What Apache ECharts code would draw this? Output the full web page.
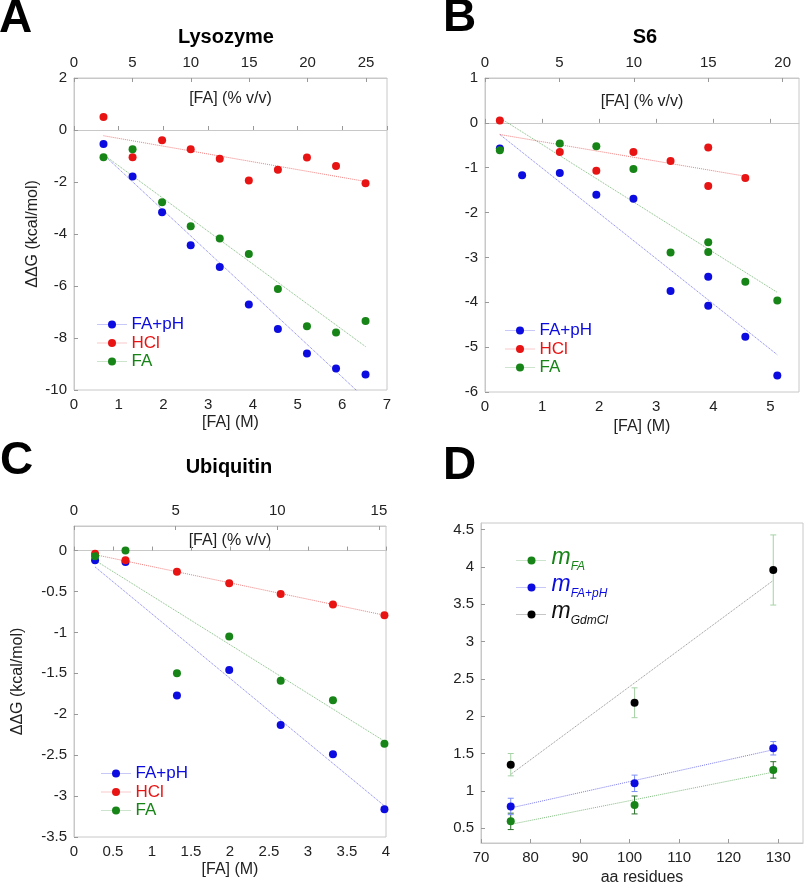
<!DOCTYPE html>
<html>
<head>
<meta charset="utf-8">
<script src="https://cdn.jsdelivr.net/npm/echarts@6/dist/echarts.min.js"></script>
</head>
<body style="margin:0">
<div id="chart" style="width:805px;height:887px;"></div>
<script>
// ---- Lysozyme (A)
const lysM = [0.66, 1.31, 1.97, 2.61, 3.26, 3.91, 4.56, 5.21, 5.86, 6.52];
const lysFApH = [-0.54, -1.79, -3.16, -4.43, -5.27, -6.71, -7.65, -8.60, -9.17, -9.40];
const lysHCl = [0.50, -1.05, -0.39, -0.74, -1.11, -1.94, -1.53, -1.06, -1.38, -2.05];
const lysFA = [-1.05, -0.74, -2.78, -3.70, -4.17, -4.77, -6.12, -7.55, -7.79, -7.35];
const lysFitM = [0.66, 6.52];
const lysFitFApH = [-0.95, -10.34];
const lysFitHCl = [-0.22, -1.98];
const lysFitFA = [-0.95, -8.33];

// ---- S6 (B)
const s6MFApH = [0.26, 0.65, 1.31, 1.95, 2.60, 3.25, 3.91, 3.91, 4.56, 5.12];
const s6FApH = [-0.57, -1.17, -1.12, -1.60, -1.69, -3.75, -3.43, -4.08, -4.77, -5.63];
const s6MHCl = [0.26, 1.31, 1.95, 2.60, 3.25, 3.91, 3.91, 4.56];
const s6HCl = [0.05, -0.65, -1.07, -0.65, -0.85, -0.55, -1.41, -1.23];
const s6MFA = [0.26, 1.31, 1.95, 2.60, 3.25, 3.91, 3.91, 4.56, 5.12];
const s6FA = [-0.61, -0.46, -0.52, -1.03, -2.89, -2.66, -2.88, -3.54, -3.96];
const s6FitMHCl = [0.26, 4.56];
const s6FitHCl = [-0.26, -1.19];
const s6FitM = [0.26, 5.12];
const s6FitFApH = [-0.26, -5.17];
const s6FitFA = [0.11, -3.78];

// ---- Ubiquitin (C)
const ubM = [0.27, 0.66, 1.32, 1.99, 2.65, 3.32, 3.98];
const ubFApH = [-0.12, -0.14, -1.77, -1.46, -2.13, -2.49, -3.16];
const ubHCl = [-0.04, -0.12, -0.26, -0.40, -0.53, -0.66, -0.79];
const ubFA = [-0.07, 0.00, -1.50, -1.05, -1.59, -1.83, -2.36];
const ubFitM = [0.27, 3.98];
const ubFitFApH = [-0.20, -3.12];
const ubFitHCl = [-0.05, -0.79];
const ubFitFA = [-0.12, -2.33];

// ---- m-values vs size (D)
const residues = [76, 101, 129];
const mFA = [0.59, 0.81, 1.28];
const mFAErr = [0.11, 0.12, 0.11];
const mFApH = [0.79, 1.10, 1.57];
const mFApHErr = [0.11, 0.11, 0.09];
const mGdm = [1.35, 2.18, 3.96];
const mGdmErr = [0.15, 0.20, 0.47];
const dFitRes = [76, 129];
const dFitFA = [0.55, 1.25];
const dFitFApH = [0.77, 1.55];
const dFitGdm = [1.22, 3.82];

// tick labels
const pctTicksA = [0, 5, 10, 15, 20, 25];
const pctTicksB = [0, 5, 10, 15, 20];
const pctTicksC = [0, 5, 10, 15];
const mTicksB = [0, 1, 2, 3, 4, 5];
const yTicksC = [-3.5, -3, -2.5, -2, -1.5, -1, -0.5, 0];
const resTicks = [70, 80, 90, 100, 110, 120, 130];
const yTicksD = [0.5, 1, 1.5, 2, 2.5, 3, 3.5, 4, 4.5];

const BLUE = '#0c0ce0', RED = '#e81414', GREEN = '#168416', BLACK = '#000000';
const FONT = 'Liberation Sans, Arial, sans-serif';
const LBL = {color: '#222', fontSize: 15, fontFamily: FONT, margin: 7};
const zip = (xs, ys) => xs.map((x, i) => [x, ys[i]]);

let chart = echarts.init(document.getElementById('chart'));

function xAx(gi, opt) {
    return Object.assign({
        type: 'value', gridIndex: gi, position: 'bottom',
        axisLine: {lineStyle: {color: '#c8c8c8'}},
        axisTick: {inside: true, length: 4, lineStyle: {color: '#999'}},
        axisLabel: LBL,
        splitLine: {show: false},
        nameTextStyle: {color: '#222', fontSize: 16, fontFamily: FONT},
        nameLocation: 'middle'
    }, opt);
}
function yAx(gi, opt) {
    return Object.assign({
        type: 'value', gridIndex: gi,
        axisLine: {show: true, lineStyle: {color: '#c8c8c8'}},
        axisTick: {show: true, inside: true, length: 4, lineStyle: {color: '#999'}},
        axisLabel: LBL,
        splitLine: {show: false},
        nameTextStyle: {color: '#222', fontSize: 16, fontFamily: FONT},
        nameLocation: 'middle', nameRotate: 90
    }, opt);
}
function custom(vals, margin) {
    return {
        axisLabel: Object.assign({}, LBL, {customValues: vals, margin: margin || 7}),
        axisTick: {inside: true, length: 4, lineStyle: {color: '#999'}, customValues: vals}
    };
}
function pts(name, color, xi, yi, data) {
    return {
        type: 'line', name: name, xAxisIndex: xi, yAxisIndex: yi, data: data,
        symbol: 'circle', symbolSize: 8, showSymbol: true, color: color,
        itemStyle: {color: color}, lineStyle: {opacity: 0}, z: 5
    };
}
function fit(color, xi, yi, data) {
    return {
        type: 'line', xAxisIndex: xi, yAxisIndex: yi, data: data, silent: true,
        showSymbol: false, symbol: 'none', color: color,
        lineStyle: {color: color, width: 1, type: 'dotted', opacity: 0.55}, z: 2
    };
}
function errs(color, xi, yi, xs, ys, es) {
    return {
        type: 'custom', xAxisIndex: xi, yAxisIndex: yi, silent: true, z: 3,
        data: xs.map((x, i) => [x, ys[i] - es[i], ys[i] + es[i]]),
        renderItem: (params, api) => {
            let lo = api.coord([api.value(0), api.value(1)]);
            let hi = api.coord([api.value(0), api.value(2)]);
            let w = 3;
            return {
                type: 'group',
                children: [
                    {type: 'line', shape: {x1: lo[0], y1: lo[1], x2: hi[0], y2: hi[1]}, style: {stroke: color, lineWidth: 1}},
                    {type: 'line', shape: {x1: lo[0] - w, y1: lo[1], x2: lo[0] + w, y2: lo[1]}, style: {stroke: color, lineWidth: 1}},
                    {type: 'line', shape: {x1: hi[0] - w, y1: hi[1], x2: hi[0] + w, y2: hi[1]}, style: {stroke: color, lineWidth: 1}}
                ]
            };
        }
    };
}
function legendABC(left, top) {
    return {
        orient: 'vertical', left: left, top: top, itemWidth: 29, itemHeight: 10, itemGap: 1.5,
        selectedMode: false,
        lineStyle: {width: 1, type: 'dotted', opacity: 0.45},
        textStyle: {fontSize: 17, fontFamily: FONT, lineHeight: 16},
        data: [
            {name: 'FA+pH', textStyle: {color: BLUE}},
            {name: 'HCl', textStyle: {color: RED}},
            {name: 'FA', textStyle: {color: GREEN}}
        ]
    };
}

const gridStyle = {show: true, borderColor: '#c8c8c8', borderWidth: 1, backgroundColor: 'transparent'};

let option = {
    animation: false,
    backgroundColor: '#fff',
    grid: [
        Object.assign({left: 74, top: 78, width: 313, height: 312}, gridStyle),
        Object.assign({left: 485, top: 78, width: 314, height: 314}, gridStyle),
        Object.assign({left: 74, top: 526, width: 312, height: 311}, gridStyle),
        Object.assign({left: 481, top: 523, width: 322, height: 323}, gridStyle)
    ],
    xAxis: [
        xAx(0, {min: 0, max: 7, interval: 1, name: '[FA] (M)', nameGap: 25}),
        xAx(0, Object.assign({min: 0, max: 26.8, position: 'top', name: '[FA] (% v/v)', nameGap: -29}, custom(pctTicksA, 8))),
        xAx(1, Object.assign({min: 0, max: 5.5, name: '[FA] (M)', nameGap: 27}, custom(mTicksB))),
        xAx(1, Object.assign({min: 0, max: 21.1, position: 'top', name: '[FA] (% v/v)', nameGap: -32}, custom(pctTicksB, 8))),
        xAx(2, {min: 0, max: 4, interval: 0.5, name: '[FA] (M)', nameGap: 25}),
        xAx(2, Object.assign({min: 0, max: 15.35, position: 'top', name: '[FA] (% v/v)', nameGap: -23}, custom(pctTicksC, 8))),
        xAx(3, Object.assign({min: 70, max: 135, name: 'aa residues', nameGap: 27}, custom(resTicks)))
    ],
    yAxis: [
        yAx(0, {min: -10, max: 2, interval: 2, name: 'ΔΔG (kcal/mol)', nameGap: 33}),
        yAx(1, {min: -6, max: 1, interval: 1}),
        yAx(2, Object.assign({min: -3.5, max: 0.3, name: 'ΔΔG (kcal/mol)', nameGap: 48}, custom(yTicksC))),
        yAx(3, Object.assign({min: 0.3, max: 4.59}, custom(yTicksD)))
    ],
    legend: [
        legendABC(92, 311),
        legendABC(500, 317),
        legendABC(96, 760),
        {
            orient: 'vertical', left: 511, top: 541, itemWidth: 30, itemHeight: 10, itemGap: 0,
            selectedMode: false,
            lineStyle: {width: 1, type: 'dotted', opacity: 0.45},
            formatter: n => {
                let k = n === 'm_FA' ? 'g' : (n === 'm_FA+pH' ? 'b' : 'k');
                return '{m' + k + '|m}{s' + k + '|' + n.slice(2) + '}';
            },
            textStyle: {
                fontFamily: FONT,
                rich: {
                    mg: {fontSize: 23, fontStyle: 'italic', color: GREEN, padding: [0, 0, 6, 0]},
                    sg: {fontSize: 12, fontStyle: 'italic', color: GREEN, padding: [13, 0, 0, 0]},
                    mb: {fontSize: 23, fontStyle: 'italic', color: BLUE, padding: [0, 0, 6, 0]},
                    sb: {fontSize: 12, fontStyle: 'italic', color: BLUE, padding: [13, 0, 0, 0]},
                    mk: {fontSize: 23, fontStyle: 'italic', color: '#111', padding: [0, 0, 6, 0]},
                    sk: {fontSize: 12, fontStyle: 'italic', color: '#111', padding: [13, 0, 0, 0]}
                }
            },
            data: ['m_FA', 'm_FA+pH', 'm_GdmCl']
        }
    ],
    graphic: [
        {type: 'text', left: -1, top: -4, style: {text: 'A', font: 'bold 46px ' + FONT, fill: '#000'}},
        {type: 'text', left: 443, top: -5, style: {text: 'B', font: 'bold 46px ' + FONT, fill: '#000'}},
        {type: 'text', left: 0, top: 438, style: {text: 'C', font: 'bold 46px ' + FONT, fill: '#000'}},
        {type: 'text', left: 443, top: 443, style: {text: 'D', font: 'bold 46px ' + FONT, fill: '#000'}},
        {type: 'text', x: 226, y: 37, style: {text: 'Lysozyme', font: 'bold 20px ' + FONT, fill: '#000', align: 'center', verticalAlign: 'middle'}},
        {type: 'text', x: 645, y: 37, style: {text: 'S6', font: 'bold 20px ' + FONT, fill: '#000', align: 'center', verticalAlign: 'middle'}},
        {type: 'text', x: 229, y: 467, style: {text: 'Ubiquitin', font: 'bold 20px ' + FONT, fill: '#000', align: 'center', verticalAlign: 'middle'}}
    ],
    series: [
        fit(BLUE, 0, 0, zip(lysFitM, lysFitFApH)),
        fit(RED, 0, 0, zip(lysFitM, lysFitHCl)),
        fit(GREEN, 0, 0, zip(lysFitM, lysFitFA)),
        pts('FA+pH', BLUE, 0, 0, zip(lysM, lysFApH)),
        pts('HCl', RED, 0, 0, zip(lysM, lysHCl)),
        pts('FA', GREEN, 0, 0, zip(lysM, lysFA)),

        fit(BLUE, 2, 1, zip(s6FitM, s6FitFApH)),
        fit(RED, 2, 1, zip(s6FitMHCl, s6FitHCl)),
        fit(GREEN, 2, 1, zip(s6FitM, s6FitFA)),
        pts('FA+pH', BLUE, 2, 1, zip(s6MFApH, s6FApH)),
        pts('HCl', RED, 2, 1, zip(s6MHCl, s6HCl)),
        pts('FA', GREEN, 2, 1, zip(s6MFA, s6FA)),

        fit(BLUE, 4, 2, zip(ubFitM, ubFitFApH)),
        fit(RED, 4, 2, zip(ubFitM, ubFitHCl)),
        fit(GREEN, 4, 2, zip(ubFitM, ubFitFA)),
        pts('FA+pH', BLUE, 4, 2, zip(ubM, ubFApH)),
        pts('HCl', RED, 4, 2, zip(ubM, ubHCl)),
        pts('FA', GREEN, 4, 2, zip(ubM, ubFA)),

        fit(GREEN, 6, 3, zip(dFitRes, dFitFA)),
        fit(BLUE, 6, 3, zip(dFitRes, dFitFApH)),
        fit('#333', 6, 3, zip(dFitRes, dFitGdm)),
        errs('#2a6e2a', 6, 3, residues, mFA, mFAErr),
        errs('#7f8ff5', 6, 3, residues, mFApH, mFApHErr),
        errs('#a6d2a6', 6, 3, residues, mGdm, mGdmErr),
        pts('m_FA', GREEN, 6, 3, zip(residues, mFA)),
        pts('m_FA+pH', BLUE, 6, 3, zip(residues, mFApH)),
        pts('m_GdmCl', BLACK, 6, 3, zip(residues, mGdm))
    ]
};

chart.setOption(option);
</script>
</body>
</html>
